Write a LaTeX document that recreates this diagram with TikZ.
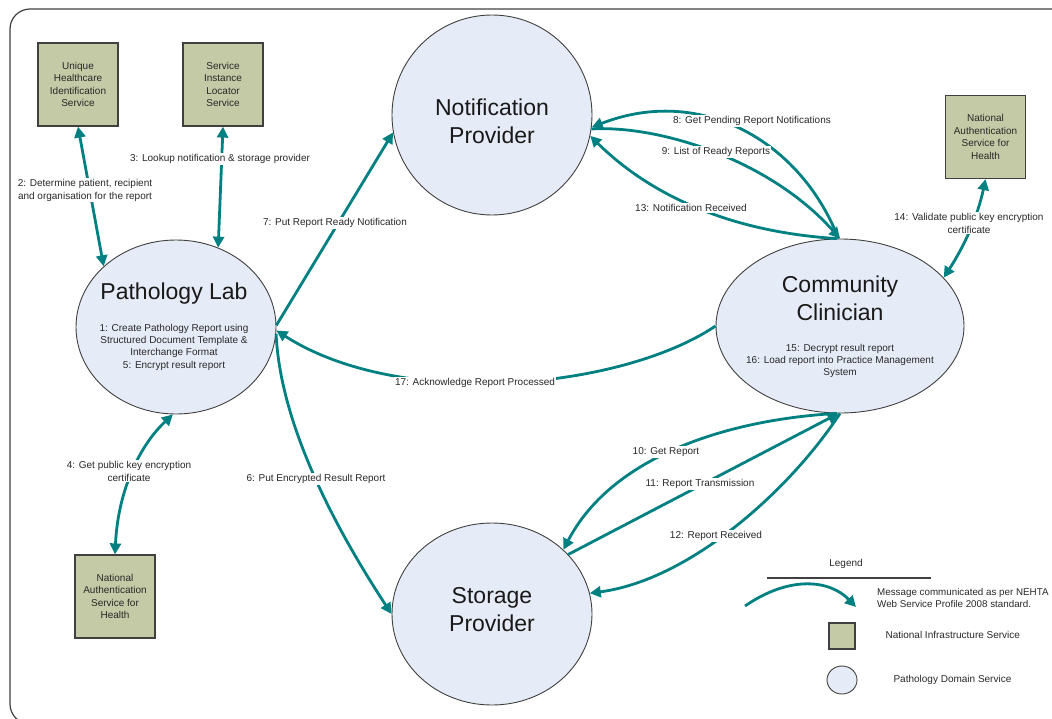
\documentclass[tikz,border=0pt]{standalone}
\usepackage{fontspec}
\setmainfont{Liberation Sans}
\usetikzlibrary{arrows.meta,shapes.geometric}
\definecolor{msg}{RGB}{0,128,128}
\definecolor{infra}{RGB}{196,202,165}
\definecolor{domain}{RGB}{230,236,247}
\definecolor{edge}{RGB}{64,64,64}
\definecolor{ink}{RGB}{40,40,40}

\begin{document}
\begin{tikzpicture}[x=1pt,y=-1pt,
  infrabox/.style={draw=edge, line width=1.2pt, fill=infra, minimum width=80pt,
    minimum height=83pt, inner sep=0pt, align=center,
    font=\fontsize{10}{12.5}\selectfont, text=ink},
  domainell/.style={ellipse, draw=edge, line width=0.9pt, fill=domain, inner sep=0pt},
  bigtitle/.style={font=\fontsize{23}{28}\selectfont, align=center, text=black!90},
  subtext/.style={font=\fontsize{10}{12.3}\selectfont, align=center, text=ink},
  msglabel/.style={fill=white, inner sep=1pt, font=\fontsize{10}{13}\selectfont,
    align=center, text=ink},
  legendtext/.style={anchor=west, font=\fontsize{10}{12}\selectfont, align=left, text=ink},
  msgline/.style={draw=msg, line width=2.8pt},
  single/.style={msgline, -{Triangle[length=11pt,width=11pt]}},
  twoway/.style={msgline, {Triangle[length=11pt,width=11pt]}-{Triangle[length=11pt,width=11pt]}},
]
\useasboundingbox (0,0) rectangle (1052,718);
\clip (0,0) rectangle (1052,718);

% outer frame
\draw[edge, line width=1.2pt, rounded corners=20pt] (10,9) rectangle (1085,724);

% national infrastructure services
\node[infrabox] (uhis) at (78,84.5) {Unique\\Healthcare\\Identification\\Service};
\node[infrabox] (sils) at (223,84.5) {Service\\Instance\\Locator\\Service};
\node[infrabox] (nash1) at (985.5,137) {National\\Authentication\\Service for\\Health};
\node[infrabox] (nash2) at (115,596.5) {National\\Authentication\\Service for\\Health};

% pathology domain services
\node[domainell, minimum width=200pt, minimum height=200pt] (nprov) at (492,115) {};
\node[domainell, minimum width=200pt, minimum height=174pt] (plab) at (176,327) {};
\node[domainell, minimum width=248pt, minimum height=174pt] (clin) at (840,326) {};
\node[domainell, minimum width=200pt, minimum height=182pt] (sprov) at (492,614) {};

\node[bigtitle] (nprovT) at (492,121) {Notification\\Provider};
\node[bigtitle] (plabT) at (174,294) {Pathology Lab};
\node[subtext] (plabS) at (174,347) {1: Create Pathology Report using\\Structured Document Template \&\\Interchange Format\\5: Encrypt result report};
\node[bigtitle] (clinT) at (840,298) {Community\\Clinician};
\node[subtext] (clinS) at (840,361) {15: Decrypt result report\\16: Load report into Practice Management\\System};
\node[bigtitle] (sprovT) at (492,610) {Storage\\Provider};

% messages
\draw[twoway] (uhis.south) -- (plab.140);
\draw[twoway] (sils.south) -- (plab.62);
\draw[twoway] (nash2.north) .. controls (118,490) and (140,445) .. (plab.268);
\draw[single] (plab.1) -- (nprov.190);
\draw[single] (plab.356) .. controls (280,420) and (330,520) .. (sprov.180);
\draw[single] (clin.180) .. controls (620,390) and (400,410) .. (plab.358);
\draw[single] (clin.91) .. controls (800,140) and (700,85) .. (nprov.353);
\draw[single] (nprov.352) .. controls (660,125) and (770,160) .. (clin.90);
\draw[single] (clin.92) .. controls (730,232) and (650,195) .. (nprov.348);
\draw[twoway] (nash1.south) .. controls (978,215) and (965,245) .. (clin.25);
\draw[single] (clin.268) .. controls (720,420) and (610,460) .. (sprov.42);
\draw[single] (sprov.38) -- (clin.269);
\draw[single] (clin.270) .. controls (790,490) and (690,580) .. (sprov.12);

% message labels
\node[msglabel] (lbl2) at (85,190) {2: Determine patient, recipient\\and organisation for the report};
\node[msglabel] (lbl3) at (220,159) {3: Lookup notification \& storage provider};
\node[msglabel] (lbl4) at (129,471) {4: Get public key encryption\\certificate};
\node[msglabel] (lbl6) at (316,479) {6: Put Encrypted Result Report};
\node[msglabel] (lbl7) at (335,223) {7: Put Report Ready Notification};
\node[msglabel] (lbl8) at (752,121) {8: Get Pending Report Notifications};
\node[msglabel] (lbl9) at (716,152) {9: List of Ready Reports};
\node[msglabel] (lbl10) at (666,452) {10: Get Report};
\node[msglabel] (lbl11) at (700,484) {11: Report Transmission};
\node[msglabel] (lbl12) at (716,536) {12: Report Received};
\node[msglabel] (lbl13) at (691,208) {13: Notification Received};
\node[msglabel] (lbl14) at (969,223) {14: Validate public key encryption\\certificate};
\node[msglabel] (lbl17) at (475,383) {17: Acknowledge Report Processed};

% legend
\node[font=\fontsize{10}{12}\selectfont, text=ink] (legT) at (846,564) {Legend};
\coordinate (ruleL) at (767,578);
\coordinate (ruleR) at (931,578);
\draw[edge, line width=1.8pt] (ruleL) -- (ruleR);
\coordinate (legS) at (745,606);
\coordinate (legE) at (856,607);
\draw[single] (legS) .. controls (790,575) and (830,580) .. (legE);
\node[legendtext, font=\fontsize{9.8}{12}\selectfont, inner sep=1pt] (legMsg) at (876,598) {Message communicated as per NEHTA\\Web Service Profile 2008 standard.};
\node[infrabox, minimum width=26pt, minimum height=26pt] (legBox) at (842,636) {};
\node[legendtext] (legBoxT) at (882,635) {National Infrastructure Service};
\node[domainell, minimum width=30pt, minimum height=28pt] (legEll) at (842,680) {};
\node[legendtext] (legEllT) at (890,680) {Pathology Domain Service};
\end{tikzpicture}
\end{document}
